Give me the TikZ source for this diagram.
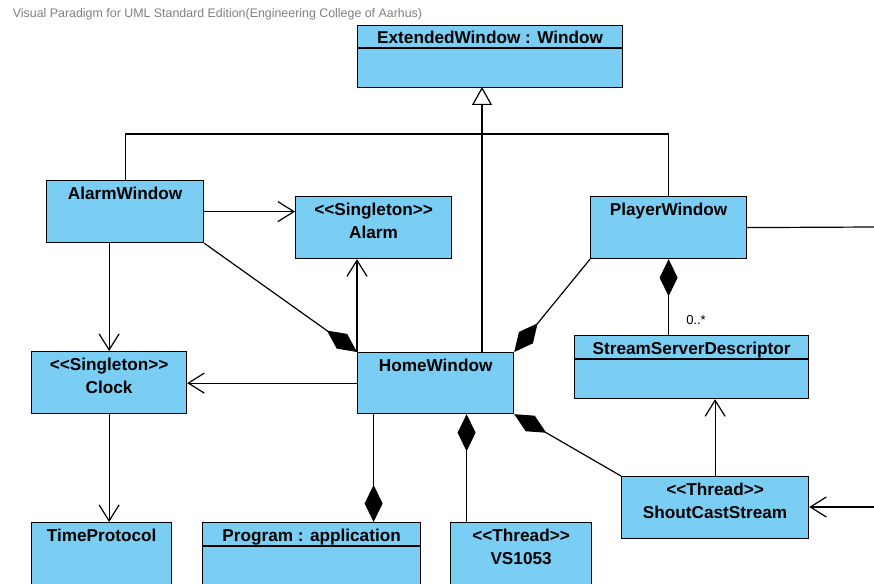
\documentclass[tikz,border=0pt]{standalone}
\usepackage{fontspec}
\setmainfont{Liberation Sans}
\usetikzlibrary{arrows.meta,positioning,calc}
\definecolor{classblue}{RGB}{122,206,244}
\newcommand{\stereo}[1]{<\kern0pt<#1>\kern0pt>}

\begin{document}
\begin{tikzpicture}[x=1pt, y=-1pt, line width=1.2pt,
    classbox/.style={draw, fill=classblue, rectangle, anchor=north west, inner sep=0pt},
    classname/.style={font=\fontsize{17.2}{23}\selectfont\bfseries, align=center, inner sep=0pt},
    dep/.style={-{Straight Barb[length=16pt, width=20pt]}},
    comp/.style={{Diamond[length=37pt, width=18pt]}-},
    compend/.style={-{Diamond[length=37pt, width=18pt]}},
    gen/.style={-{Triangle[open, length=18pt, width=20pt, fill=white]}}]
    \useasboundingbox (0,0) rectangle (874,583);
    \clip (0,0) rectangle (874,583);

    \node (title) [anchor=west, text=gray, font=\fontsize{12.4}{14}\selectfont] at (9,14) {Visual Paradigm for UML Standard Edition(Engineering College of Aarhus)};

    % classes
    \node (ext) [classbox, minimum width=265, minimum height=62] at (357,25) {};
    \node (alarmwin) [classbox, minimum width=157, minimum height=62] at (46,180) {};
    \node (alarm) [classbox, minimum width=156, minimum height=62] at (295,196) {};
    \node (player) [classbox, minimum width=156, minimum height=62] at (590,196) {};
    \node (home) [classbox, minimum width=156, minimum height=61] at (357,352) {};
    \node (clock) [classbox, minimum width=155, minimum height=62] at (31,351) {};
    \node (ssd) [classbox, minimum width=234, minimum height=63] at (574,335) {};
    \node (shout) [classbox, minimum width=187, minimum height=62] at (621,476) {};
    \node (timep) [classbox, minimum width=140, minimum height=90] at (31,522) {};
    \node (program) [classbox, minimum width=218, minimum height=90] at (202,522) {};
    \node (vs) [classbox, minimum width=141, minimum height=90] at (450,522) {};

    \draw ($(ext.north west)+(0,23)$) -- ($(ext.north east)+(0,23)$);
    \draw ($(ssd.north west)+(0,24)$) -- ($(ssd.north east)+(0,24)$);
    \draw ($(program.north west)+(0,24)$) -- ($(program.north east)+(0,24)$);

    \node (ext-t) [classname, below=5pt of ext.north] {ExtendedWindow : Window};
    \node (alarmwin-t) [classname, below=6pt of alarmwin.north] {AlarmWindow};
    \node (alarm-t) [classname, below=6pt of alarm.north] {\stereo{Singleton}\\Alarm};
    \node (player-t) [classname, below=6pt of player.north] {PlayerWindow};
    \node (home-t) [classname, below=6pt of home.north] {HomeWindow};
    \node (clock-t) [classname, below=6pt of clock.north] {\stereo{Singleton}\\Clock};
    \node (ssd-t) [classname, below=6pt of ssd.north] {StreamServerDescriptor};
    \node (shout-t) [classname, below=6pt of shout.north] {\stereo{Thread}\\ShoutCastStream};
    \node (timep-t) [classname, below=6pt of timep.north] {TimeProtocol};
    \node (program-t) [classname, below=6pt of program.north] {Program : application};
    \node (vs-t) [classname, below=6pt of vs.north] {\stereo{Thread}\\VS1053};

    % generalization
    \coordinate (genjoin) at (482,134);
    \coordinate (gentip) at (482,87);
    \draw (alarmwin.north) |- (genjoin) -| (player.north);
    \draw (home.north -| genjoin) -- (genjoin);
    \draw[gen] (genjoin) -- (gentip);

    % dependencies
    \draw[dep] (alarmwin.east) -- (alarmwin.east -| alarm.west);
    \draw[dep] (clock.north |- alarmwin.south) -- (clock.north);
    \draw[dep] (clock.south) -- (clock.south |- timep.north);
    \draw[dep] (home.west) -- (home.west -| clock.east);
    \draw[dep] (home.north west) -- (home.north west |- alarm.south);
    \draw[dep] (shout.north) -- (shout.north |- ssd.south);
    \coordinate (shoutin) at (874,507);
    \draw[dep] (shoutin) -- (shoutin -| shout.east);
    \coordinate (playerout) at (874,227);
    \draw (player.east) -- (playerout);

    % compositions
    \draw[comp] (home.north west) -- (alarmwin.south east);
    \draw[comp] (home.north east) -- (player.south west);
    \draw[comp] (home.south east) -- (shout.north west);
    \draw[comp] ([xshift=31pt]home.south) -- ([xshift=31pt]home.south |- vs.north);
    \draw[compend] ([xshift=-62pt]home.south) -- ([xshift=-62pt]home.south |- program.north);
    \draw[comp] (player.south) -- (player.south |- ssd.north);
    \node (mult) [font=\fontsize{13}{15}\selectfont] at (696,320) {0..*};
\end{tikzpicture}
\end{document}
